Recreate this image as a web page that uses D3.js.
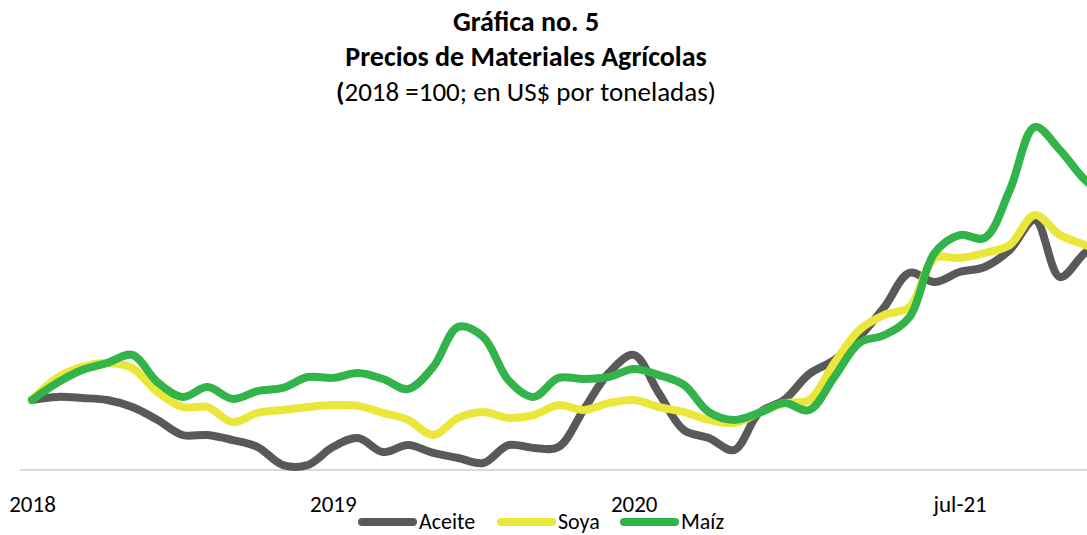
<!DOCTYPE html>
<html>
<head>
<meta charset="utf-8">
<script src="https://cdn.jsdelivr.net/npm/d3@7"></script>
<style>
  html, body { margin: 0; padding: 0; background: #fff; overflow: hidden; }
  svg { display: block; font-family: Carlito, Calibri, Lato, sans-serif; }
</style>
</head>
<body>
<svg id="chart" width="1087" height="535"></svg>
<script>
// Monthly index, ene-2018 = 0
const months = d3.range(0, 44);

// Series values (2018 = 100)
const aceite = [100, 101.1, 100.7, 100, 97.5, 92.9, 87.5, 87.5, 85.7, 83.2, 76.8, 76.8,
  83.2, 86.4, 81.4, 83.9, 81.1, 79.3, 77.5, 83.9, 82.9, 83.2, 96.4, 109.6,
  116.1, 102.5, 89.3, 86.4, 82.1, 95.4, 100, 109.3, 114.3, 122.5, 133.2, 145.4,
  142.1, 145.7, 147.5, 153.6, 164.3, 143.9, 152.5, 158];
const soya = [100, 107.9, 111.8, 113.2, 111.4, 102.9, 97.5, 97.5, 92.1, 95.4, 96.4, 97.5,
  98.2, 97.9, 95.4, 92.9, 87.5, 93.6, 95.7, 93.6, 94.6, 98.2, 96.4, 98.9,
  100, 97.5, 95.7, 92.9, 91.8, 95.4, 98.9, 100, 113.2, 125, 130.4, 133.2,
  150.7, 150.7, 152.5, 155.4, 166.1, 158.9, 155.4, 152];
const maiz = [100, 106.1, 110.7, 113.2, 116.1, 106.4, 101.1, 104.6, 100.4, 103.2, 104.3, 108.2,
  107.9, 109.6, 107.5, 103.9, 111.8, 126.1, 122.5, 107.1, 101.1, 107.9, 107.5, 108.2,
  111.1, 108.9, 105.4, 95.7, 92.9, 95.4, 98.9, 96.4, 108.2, 120.4, 123.2, 129.6,
  152.5, 158.9, 157.9, 175, 197.5, 189.3, 178.6, 172];

// Axis labels
const tickMonths = [0, 12, 24, 37];
const tickLabels = ["2018", "2019", "2020", "jul-21"];

const seriesNames = ["Aceite", "Soya", "Maíz"];
const seriesColors = ["#595959", "#ebe73a", "#33b44b"];

const svg = d3.select("#chart");
const W = 1087;

// Scales
const x = d3.scaleLinear().domain([0, 42]).range([32, 1085]);
const y = d3.scaleLinear().domain([75, 210]).range([470, 92]);

// Title
const tx = 526;
svg.append("text")
  .attr("x", tx).attr("y", 31)
  .attr("text-anchor", "middle")
  .style("font-weight", "bold").style("font-size", "28px")
  .text("Gráfica no. 5");
svg.append("text")
  .attr("x", tx).attr("y", 66)
  .attr("text-anchor", "middle")
  .style("font-weight", "bold").style("font-size", "28px")
  .text("Precios de Materiales Agrícolas");
const sub = svg.append("text")
  .attr("x", tx).attr("y", 101)
  .attr("text-anchor", "middle")
  .style("font-size", "27px");
sub.append("tspan").style("font-weight", "bold").text("(");
sub.append("tspan").text("2018 =100; en US$ por toneladas)");

// Baseline
svg.append("line")
  .attr("x1", 20).attr("x2", W)
  .attr("y1", y(75)).attr("y2", y(75))
  .attr("stroke", "#d9d9d9")
  .attr("stroke-width", 2);

// X axis labels
const xAxis = d3.axisBottom(x)
  .tickValues(tickMonths)
  .tickFormat((d, i) => tickLabels[i])
  .tickSize(0)
  .tickPadding(0);

const gx = svg.append("g")
  .attr("transform", "translate(0,512)")
  .call(xAxis);
gx.select(".domain").remove();
gx.selectAll("text")
  .attr("dy", 0)
  .style("font-family", "Carlito, Calibri, Lato, sans-serif")
  .style("font-size", "23px")
  .style("fill", "#000");

// Lines
const line = d3.line()
  .x((d, i) => x(months[i]))
  .y(d => y(d))
  .curve(d3.curveCatmullRom.alpha(0.5));

[aceite, soya, maiz].forEach((vals, i) => {
  svg.append("path")
    .datum(vals)
    .attr("d", line)
    .attr("fill", "none")
    .attr("stroke", seriesColors[i])
    .attr("stroke-width", 8)
    .attr("stroke-linejoin", "round")
    .attr("stroke-linecap", "round");
});

// Legend
const legendX = [362, 501, 624];
const legend = svg.selectAll("g.legend-item")
  .data(seriesNames)
  .enter()
  .append("g")
  .attr("class", "legend-item")
  .attr("transform", (d, i) => "translate(" + legendX[i] + ",522)");

legend.append("line")
  .attr("x1", 0).attr("x2", 51)
  .attr("y1", 0).attr("y2", 0)
  .attr("stroke", (d, i) => seriesColors[i])
  .attr("stroke-width", 8)
  .attr("stroke-linecap", "round");

legend.append("text")
  .attr("x", 57)
  .attr("y", 7)
  .style("font-size", "22px")
  .text(d => d);
</script>
</body>
</html>
